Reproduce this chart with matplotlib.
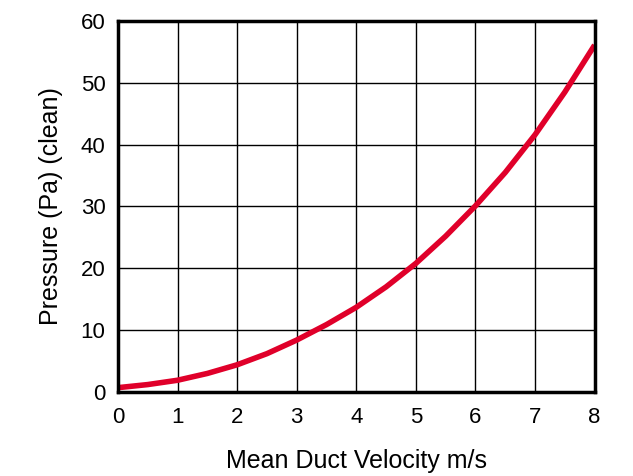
import matplotlib
matplotlib.use("Agg")
import matplotlib.pyplot as plt

# values
velocity = [0, 0.5, 1, 1.5, 2, 2.5, 3, 3.5, 4, 4.5, 5, 5.5, 6, 6.5, 7, 7.5, 8]
pressure = [0.7, 1.2, 1.9, 3.0, 4.4, 6.2, 8.4, 10.9, 13.7, 17.0, 20.8, 25.2,
            30.1, 35.5, 41.6, 48.5, 56.1]

x_ticks = [0, 1, 2, 3, 4, 5, 6, 7, 8]
y_ticks = [0, 10, 20, 30, 40, 50, 60]

plt.rcParams['font.family'] = ['Liberation Sans', 'DejaVu Sans']

fig = plt.figure(figsize=(6.33, 4.76), dpi=100)
ax = fig.add_axes([0.1864, 0.1765, 0.753, 0.7795])

ax.plot(velocity, pressure, color='#e0002a', lw=4, solid_capstyle='butt',
        solid_joinstyle='round', zorder=3)

ax.set_xlim(0, 8)
ax.set_ylim(0, 60)
ax.set_xticks(x_ticks)
ax.set_yticks(y_ticks)
ax.grid(True, color='black', lw=1)
ax.tick_params(length=0, labelsize=16)
ax.tick_params(axis='x', pad=11)
ax.tick_params(axis='y', pad=9)

for s in ax.spines.values():
    s.set_linewidth(2.5)
    s.set_zorder(4)

ax.set_xlabel("Mean Duct Velocity m/s", fontsize=18, labelpad=15)
ax.set_ylabel("Pressure (Pa) (clean)", fontsize=18, labelpad=13)

fig.savefig("out.png", dpi=100)
